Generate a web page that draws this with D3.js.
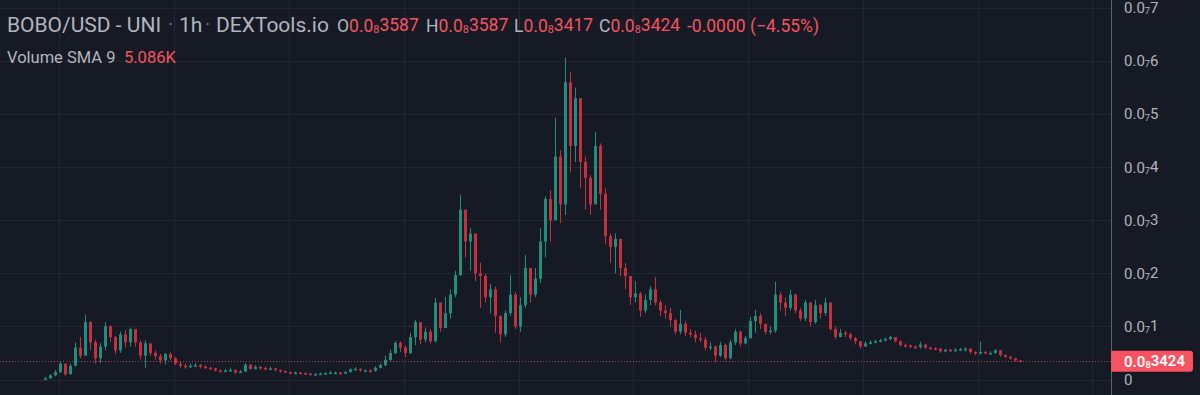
<!DOCTYPE html>
<html>
<head>
<meta charset="utf-8">
<script src="https://cdn.jsdelivr.net/npm/d3@7"></script>
<style>
  html, body { margin: 0; padding: 0; background: #161a25; overflow: hidden; }
  #chart { width: 1200px; height: 395px; }
</style>
</head>
<body>
<div id="chart"></div>
<script>
// Prices are in units of 1e-8 USD (one step of 0.0₇1 on the axis)
// Hourly candles, open = previous close
var closes = [
  0.02,0.08,0.14,0.30,0.10,0.26,0.60,0.45,1.08,0.70,0.40,0.62,1.00,0.80,0.55,0.85,0.70,0.95,0.70,0.45,0.68,0.50,
  0.44,0.36,0.48,0.40,0.30,0.26,0.24,0.26,0.27,0.24,0.22,0.21,0.17,0.16,0.17,0.18,0.13,0.15,0.28,0.20,0.24,0.22,0.20,0.21,0.18,0.16,0.14,0.12,0.13,0.12,0.11,0.10,0.10,0.11,0.12,0.13,0.13,0.11,0.14,0.19,0.20,0.17,0.17,0.16,0.22,0.27,
  0.37,0.50,0.69,0.60,0.50,0.80,1.08,0.75,0.90,0.72,1.45,0.97,1.25,1.60,1.97,3.20,2.60,2.75,2.00,1.95,1.55,1.70,1.20,0.85,1.25,1.60,1.00,1.40,2.10,1.60,1.90,2.60,
  3.40,3.00,4.20,3.30,5.60,4.40,5.30,4.10,3.80,3.30,4.40,3.50,2.70,2.50,2.65,2.10,1.95,1.55,1.62,1.30,
  1.50,1.70,1.45,1.30,1.25,1.12,0.90,1.05,0.88,0.85,0.78,0.75,0.60,0.62,0.45,0.65,0.40,0.70,
  0.90,0.68,0.78,1.10,1.20,1.05,0.90,0.92,1.60,1.45,1.35,1.60,1.30,1.15,1.45,1.08,1.40,1.25,1.45,0.95,0.80,0.88,0.85,0.78,0.72,0.62,
  0.68,0.70,0.72,0.74,0.76,0.80,0.72,0.65,0.64,0.62,0.61,0.66,0.60,0.59,0.58,0.53,0.56,0.55,0.56,0.57,0.58,0.52,0.50,0.52,0.50,0.50,0.55,0.46,0.43,0.40,0.3587,0.3424
];
var highs = [
  0.05,0.10,0.18,0.33,0.30,0.30,0.70,0.80,1.22,1.10,0.75,0.68,1.08,1.02,0.82,0.90,0.93,0.98,0.88,0.74,0.74,0.64,
  0.55,0.48,0.50,0.52,0.42,0.33,0.30,0.30,0.31,0.29,0.27,0.24,0.22,0.19,0.20,0.22,0.19,0.18,0.31,0.28,0.27,0.25,0.24,0.24,0.21,0.19,0.17,0.15,0.15,0.14,0.13,0.12,0.12,0.13,0.14,0.16,0.15,0.14,0.16,0.21,0.23,0.21,0.19,0.19,0.25,0.30,
  0.45,0.56,0.72,0.72,0.64,0.88,1.12,1.08,0.98,0.95,1.54,1.45,1.55,1.70,2.05,3.48,3.15,2.85,2.75,2.20,2.00,1.80,1.75,1.20,1.30,1.97,1.65,1.55,2.35,2.10,2.10,2.85,
  3.45,3.57,4.93,4.32,6.06,5.80,5.50,4.93,4.20,3.85,4.66,4.45,3.60,2.75,2.75,2.50,2.20,1.95,1.85,1.65,
  1.60,1.76,1.93,1.50,1.40,1.35,1.15,1.31,1.10,0.95,0.92,0.88,0.80,0.70,0.65,0.71,0.68,0.75,
  0.95,0.92,0.82,1.18,1.31,1.25,1.05,1.00,1.84,1.65,1.55,1.69,1.62,1.35,1.50,1.45,1.50,1.42,1.54,1.45,1.00,0.95,0.92,0.88,0.80,0.72,
  0.72,0.74,0.75,0.77,0.79,0.82,0.80,0.73,0.68,0.66,0.64,0.71,0.67,0.62,0.61,0.59,0.58,0.58,0.59,0.60,0.61,0.59,0.53,0.71,0.54,0.53,0.57,0.55,0.47,0.44,0.40,0.3587
];
var lows = [
  0.00,0.02,0.06,0.12,0.07,0.10,0.25,0.40,0.45,0.55,0.30,0.31,0.55,0.70,0.48,0.50,0.60,0.62,0.62,0.38,0.22,0.44,
  0.38,0.30,0.28,0.36,0.27,0.22,0.20,0.22,0.24,0.21,0.20,0.18,0.15,0.13,0.14,0.15,0.11,0.12,0.14,0.18,0.19,0.18,0.17,0.18,0.15,0.13,0.12,0.10,0.10,0.10,0.09,0.08,0.08,0.09,0.10,0.11,0.10,0.09,0.10,0.13,0.17,0.15,0.14,0.13,0.15,0.21,
  0.25,0.35,0.48,0.52,0.42,0.48,0.65,0.66,0.70,0.68,0.70,0.90,1.10,1.15,1.55,1.95,2.30,2.05,1.85,1.35,1.45,1.25,0.88,0.70,0.80,1.20,0.95,0.90,1.35,1.44,1.55,1.82,
  2.30,2.60,3.40,2.95,3.10,3.90,4.10,3.60,3.20,3.10,3.30,3.20,2.55,2.20,2.00,1.95,1.70,1.40,1.45,1.18,
  1.25,1.40,1.40,1.20,1.15,1.00,0.85,0.85,0.82,0.80,0.70,0.70,0.55,0.55,0.33,0.42,0.36,0.38,
  0.65,0.62,0.66,0.76,0.88,0.95,0.85,0.85,0.88,1.30,1.20,1.30,1.25,1.10,1.10,1.00,1.05,1.15,1.20,0.92,0.76,0.80,0.80,0.74,0.66,0.58,
  0.62,0.66,0.68,0.70,0.72,0.74,0.70,0.62,0.60,0.59,0.57,0.58,0.57,0.56,0.55,0.50,0.51,0.52,0.53,0.54,0.53,0.48,0.46,0.47,0.47,0.47,0.48,0.43,0.41,0.37,0.34,0.3417
];
var firstOpen = 0.01;

// Axis ticks (same units)
var priceTicks = [0, 1, 2, 3, 4, 5, 6, 7];
// Day boundaries, in candle-index units
var dayStarts = [2.9, 25.9, 48.9, 71.8, 94.8, 117.7, 140.7, 163.6, 186.6, 209.5];

// Header texts
var symbolText = "BOBO/USD - UNI";
var intervalText = "1h";
var sourceText = "DEXTools.io";
var changeText = "-0.0000 (\u22124.55%)";
var volumeLabel = "Volume SMA 9";
var volumeValue = "5.086K";

// Colors
var bg = "#161a25";
var gridColor = "#232733";
var textColor = "#b2b5be";
var upColor = "#22ab94";
var downColor = "#f23645";
var redText = "#f7525f";

var width = 1200, height = 395;
var axisX = 1111;

var svg = d3.select('#chart')
  .append('svg')
    .attr('width', width)
    .attr('height', height)
    .style('background', bg)
    .style('font-family', 'Roboto, "Noto Sans", sans-serif');

// Build candle data
var data = [];
for (let i = 0; i < closes.length; i++) {
  let o = i === 0 ? firstOpen : closes[i - 1];
  let c = closes[i];
  data.push({
    i: i,
    open: o,
    close: c,
    high: Math.max(highs[i], o, c),
    low: Math.min(lows[i], o, c)
  });
}

// Scales
var x = d3.scaleLinear()
  .domain([0, data.length - 1])
  .range([45, 1020]);

var y = d3.scaleLinear()
  .domain([0, 7])
  .range([379.5, 8]);

// Split a price (in 1e-8 units) into "0.0", zero count, digits
function priceParts(v, digits) {
  if (v === 0) return null;
  var real = v * 1e-8;
  var zeros = Math.floor(-Math.log10(real) - 1e-9);
  var mant = real * Math.pow(10, zeros + 1);
  var str = Math.round(mant * Math.pow(10, digits - 1)).toString();
  return {lead: "0.0", zeros: zeros, rest: str};
}

function writePrice(sel, v, digits) {
  var p = priceParts(v, digits);
  if (!p) { sel.append("tspan").text("0"); return; }
  sel.append("tspan").text(p.lead);
  sel.append("tspan").attr("font-size", "0.62em").attr("dy", "0.12em").text(p.zeros);
  sel.append("tspan").attr("dy", "-0.12em").text(p.rest);
}

// Gridlines
svg.append("g")
  .selectAll("line")
  .data(dayStarts)
  .join("line")
    .attr("x1", d => x(d)).attr("x2", d => x(d))
    .attr("y1", 0).attr("y2", height)
    .attr("stroke", gridColor)
    .attr("stroke-width", 1)
    .attr("shape-rendering", "crispEdges");

svg.append("g")
  .selectAll("line")
  .data(priceTicks)
  .join("line")
    .attr("x1", 0).attr("x2", axisX)
    .attr("y1", d => Math.round(y(d)) + 0.5).attr("y2", d => Math.round(y(d)) + 0.5)
    .attr("stroke", gridColor)
    .attr("stroke-width", 1);

// Candles
var candles = svg.append("g")
  .selectAll("g")
  .data(data)
  .join("g")
    .attr("opacity", 0.8);

candles.append("line")
  .attr("x1", d => Math.round(x(d.i)) + 0.5)
  .attr("x2", d => Math.round(x(d.i)) + 0.5)
  .attr("y1", d => y(d.high))
  .attr("y2", d => y(d.low))
  .attr("stroke", d => d.close >= d.open ? upColor : downColor)
  .attr("stroke-width", 1);

candles.append("rect")
  .attr("x", d => Math.round(x(d.i)) - 1)
  .attr("width", 3)
  .attr("y", d => y(Math.max(d.open, d.close)))
  .attr("height", d => Math.max(1.5, Math.abs(y(d.open) - y(d.close))))
  .attr("fill", d => d.close >= d.open ? upColor : downColor);

// Last price line
var last = data[data.length - 1];
svg.append("line")
  .attr("x1", 0).attr("x2", axisX)
  .attr("y1", Math.round(y(last.close)) + 0.5)
  .attr("y2", Math.round(y(last.close)) + 0.5)
  .attr("stroke", redText)
  .attr("stroke-opacity", 0.7)
  .attr("stroke-dasharray", "1,2");

// Right axis
svg.append("line")
  .attr("x1", axisX + 0.5).attr("x2", axisX + 0.5)
  .attr("y1", 0).attr("y2", height)
  .attr("stroke", "#5d606b");

var yAxis = svg.append("g")
  .attr("transform", `translate(${axisX},0)`)
  .call(d3.axisRight(y).tickValues(priceTicks).tickSize(0).tickPadding(13));
yAxis.select(".domain").remove();
yAxis.selectAll("text")
  .attr("fill", textColor)
  .attr("font-size", 15)
  .style("font-family", 'Roboto, "Noto Sans", sans-serif')
  .each(function(d) {
    var t = d3.select(this);
    t.text(null);
    writePrice(t, d, 1);
  });

// Last price label
var ly = y(last.close);
svg.append("path")
  .attr("d", `M${axisX},${ly - 10.5} H${1190} a3,3 0 0 1 3,3 V${ly + 7.5} a3,3 0 0 1 -3,3 H${axisX} Z`)
  .attr("fill", redText);
var lt = svg.append("text")
  .attr("x", 1124).attr("y", ly + 5.5)
  .attr("fill", "#ffffff")
  .attr("font-size", 15)
  .attr("font-weight", 600);
writePrice(lt, last.close, 4);

// Header
var header = svg.append("g");
header.append("text").attr("x", 7).attr("y", 32).attr("font-size", 21).attr("fill", textColor).text(symbolText);
header.append("text").attr("x", 168).attr("y", 31).attr("font-size", 20).attr("fill", "#6a6d78").text("\u00b7");
header.append("text").attr("x", 179).attr("y", 32).attr("font-size", 21).attr("fill", textColor).text(intervalText);
header.append("text").attr("x", 205).attr("y", 31).attr("font-size", 20).attr("fill", "#6a6d78").text("\u00b7");
header.append("text").attr("x", 216).attr("y", 32).attr("font-size", 21).attr("fill", textColor).text(sourceText);

var ohlc = [["O", last.open, 337], ["H", last.high, 426], ["L", last.low, 514], ["C", last.close, 599]];
ohlc.forEach(function(item) {
  var t = header.append("text")
    .attr("x", item[2]).attr("y", 32)
    .attr("font-size", 17.5);
  t.append("tspan").attr("fill", textColor).text(item[0]);
  var p = priceParts(item[1], 4);
  t.append("tspan").attr("fill", redText).text(p.lead);
  t.append("tspan").attr("fill", redText).attr("font-size", "0.62em").attr("dy", "0.12em").text(p.zeros);
  t.append("tspan").attr("fill", redText).attr("dy", "-0.12em").text(p.rest);
});
header.append("text").attr("x", 687).attr("y", 32).attr("font-size", 17.5).attr("fill", redText).text(changeText);

header.append("text").attr("x", 7).attr("y", 63).attr("font-size", 16.5).attr("fill", textColor).text(volumeLabel);
header.append("text").attr("x", 124).attr("y", 63).attr("font-size", 16.5).attr("fill", redText).text(volumeValue);
</script>
</body>
</html>
